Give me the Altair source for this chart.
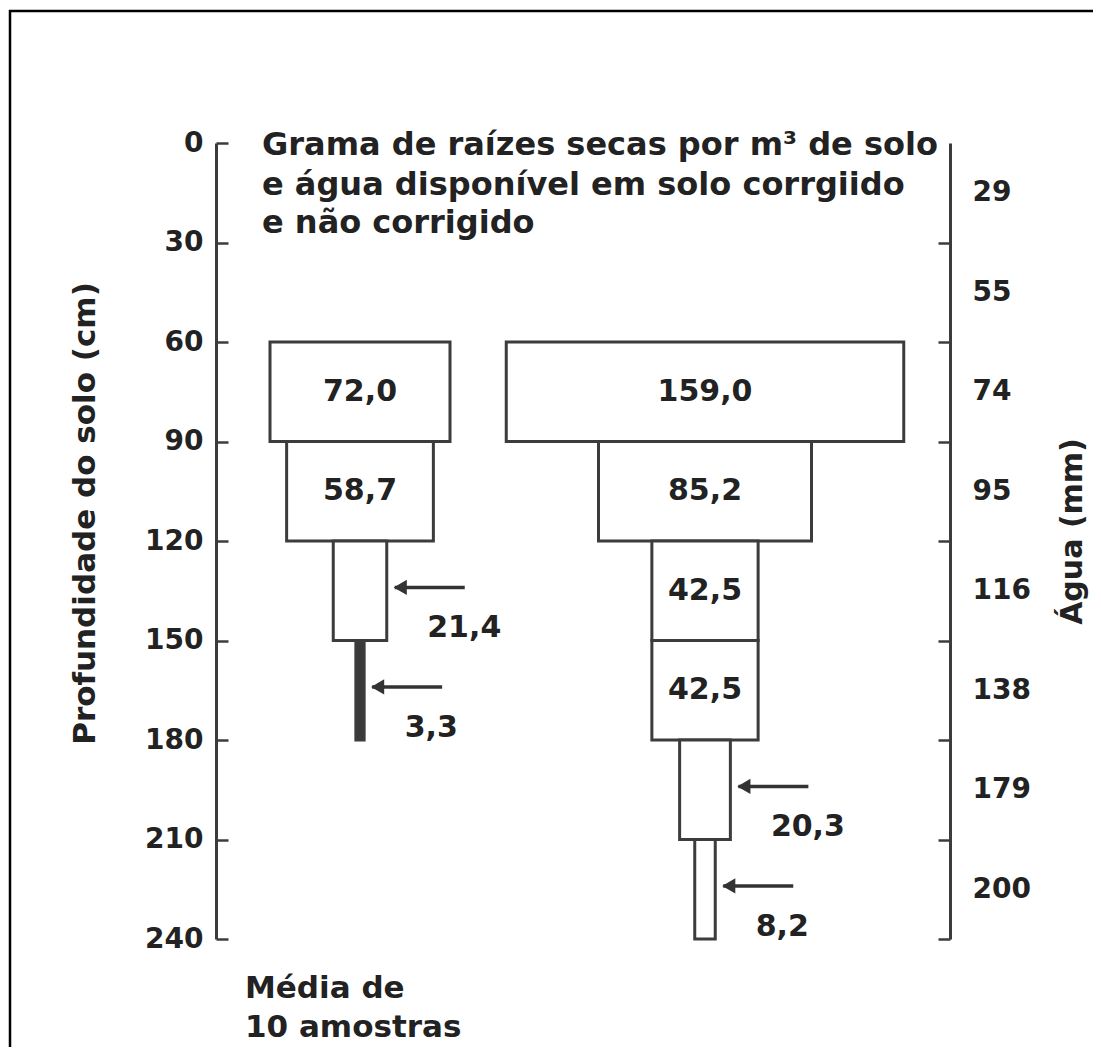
import altair as alt
import pandas as pd

# ---------------- data ----------------
depth_ticks = [0, 30, 60, 90, 120, 150, 180, 210, 240]
water_mm = [29, 55, 74, 95, 116, 138, 179, 200]

left_values = [72.0, 58.7, 21.4, 3.3]
left_tops = [60, 90, 120, 150]
left_bottoms = [90, 120, 150, 180]

right_values = [159.0, 85.2, 42.5, 42.5, 20.3, 8.2]
right_tops = [60, 90, 120, 150, 180, 210]
right_bottoms = [90, 120, 150, 180, 210, 240]

title_lines = ["Grama de raízes secas por m³ de solo",
               "e água disponível em solo corrgiido",
               "e não corrigido"]
note_lines = ["Média de", "10 amostras"]

# ---------------- layout / style ----------------
W, H = 734, 796
PAD = {"left": 208, "top": 135, "right": 143, "bottom": 108}
PX_PER_UNIT = 2.5
XMAX = W / PX_PER_UNIT
LEFT_C, RIGHT_C = 57.6, 195.6
FONT = "DejaVu Sans"
INK = "#222222"
LINE = "#3c3c3c"

rows = []
for c, vals, tops, bots in [(LEFT_C, left_values, left_tops, left_bottoms),
                            (RIGHT_C, right_values, right_tops, right_bottoms)]:
    for v, t, b in zip(vals, tops, bots):
        rows.append({
            "x1": c - v / 2, "x2": c + v / 2, "top": t, "bottom": b,
            "mid": (t + b) / 2, "cx": c, "v": v,
            "label": f"{v:.1f}".replace(".", ","),
            "inside": v >= 40,
            "fill": "#3a3a3a" if v < 5 else "white",
        })
df = pd.DataFrame(rows)
inside = df[df["inside"]].copy()
outside = df[~df["inside"]].copy()
outside["ax"] = outside["x2"] + 3.2
outside["ax2"] = outside["ax"] + 28
outside["ay"] = outside["top"] + 14
outside["hx"] = outside["ax"] + 2.2
outside["lx"] = outside["ax"] + 13
outside["ly"] = outside["top"] + 29

titles = pd.DataFrame({"text": title_lines, "x": [18.4] * 3, "y": [3.6, 15.7, 27.1]})
notes = pd.DataFrame({"text": note_lines, "x": [11.6] * 2, "y": [257.8, 269.6]})

xs = alt.Scale(domain=[0, XMAX], nice=False, zero=False)
ys = alt.Scale(domain=[0, 240], reverse=True, nice=False, zero=False)

lab = dict(labelFont=FONT, labelFontWeight="bold", labelFontSize=28, labelColor=INK,
           labelFlush=False, labelOverlap=False, grid=False)
ttl = dict(titleFont=FONT, titleFontWeight="bold", titleColor=INK,
           titleAngle=270, titleAlign="center", titleBaseline="middle")

left_axis = alt.Axis(orient="left", values=depth_ticks, ticks=False, tickSize=0,
                     labelPadding=13, domain=True, domainColor=LINE, domainWidth=3,
                     title="Profundidade do solo (cm)", titleFontSize=31,
                     titleX=-131, titleY=370, **lab, **ttl)
left_ticks = alt.Axis(orient="left", values=depth_ticks, offset=-12, tickSize=12,
                      tickWidth=2.5, tickColor=LINE, labels=False, domain=False,
                      title=None, grid=False)
right_ticks = alt.Axis(orient="right", values=depth_ticks[1:], offset=-12, tickSize=12,
                       tickWidth=2.5, tickColor=LINE, labels=False, domain=False,
                       title=None, grid=False)
right_axis = alt.Axis(orient="right", values=[15 + 30 * i for i in range(len(water_mm))],
                      labelExpr=f"{water_mm}[floor(datum.value / 30)]",
                      ticks=False, tickSize=0, labelPadding=22, domain=True,
                      domainColor=LINE, domainWidth=3, title="Água (mm)", titleFontSize=30,
                      titleX=122, titleY=388, **lab, **ttl)

boxes = alt.Chart(df).mark_rect(stroke=LINE, strokeWidth=3).encode(
    x=alt.X("x1:Q", scale=xs, axis=None), x2="x2:Q",
    y=alt.Y("top:Q", scale=ys, axis=left_axis), y2="bottom:Q",
    fill=alt.Fill("fill:N", scale=None),
)
inner = alt.Chart(inside).mark_text(font=FONT, fontWeight="bold", fontSize=30,
                                    color=INK, align="center", baseline="middle").encode(
    x=alt.X("cx:Q", scale=xs, axis=None),
    y=alt.Y("mid:Q", scale=ys, axis=left_ticks),
    text="label:N",
)
shafts = alt.Chart(outside).mark_rule(color="#333333", strokeWidth=3.5).encode(
    x=alt.X("ax:Q", scale=xs, axis=None), x2="ax2:Q",
    y=alt.Y("ay:Q", scale=ys, axis=right_ticks),
)
heads = alt.Chart(outside).mark_point(shape="triangle-left", filled=True, size=230,
                                      color="#333333", opacity=1).encode(
    x=alt.X("hx:Q", scale=xs, axis=None),
    y=alt.Y("ay:Q", scale=ys, axis=None),
)
small = alt.Chart(outside).mark_text(font=FONT, fontWeight="bold", fontSize=30,
                                     color=INK, align="left", baseline="alphabetic").encode(
    x=alt.X("lx:Q", scale=xs, axis=None),
    y=alt.Y("ly:Q", scale=ys, axis=None),
    text="label:N",
)
title_txt = alt.Chart(titles).mark_text(font=FONT, fontWeight="bold", fontSize=32,
                                        color=INK, align="left", baseline="alphabetic").encode(
    x=alt.X("x:Q", scale=xs, axis=None),
    y=alt.Y("y:Q", scale=ys, axis=right_axis),
    text="text:N",
)
note_txt = alt.Chart(notes).mark_text(font=FONT, fontWeight="bold", fontSize=31,
                                      color=INK, align="left", baseline="alphabetic").encode(
    x=alt.X("x:Q", scale=xs, axis=None),
    y=alt.Y("y:Q", scale=ys, axis=None),
    text="text:N",
)

one = pd.DataFrame({"k": [0]})
frame_top = alt.Chart(one).mark_rule(color="black", strokeWidth=2.5).encode(
    x=alt.value(-207), x2=alt.value(W + PAD["right"]), y=alt.value(-132))
frame_left = alt.Chart(one).mark_rule(color="black", strokeWidth=2.5).encode(
    x=alt.value(-206), y=alt.value(-133), y2=alt.value(H + PAD["bottom"]))

chart = alt.layer(
    boxes, inner, shafts, heads, small, title_txt, note_txt, frame_top, frame_left
).resolve_axis(y="independent").properties(
    width=W, height=H, padding=PAD,
    autosize=alt.AutoSizeParams(type="none"),
    background="white",
).configure_view(stroke=None)

chart.save("out.html", embed_options={"renderer": "svg", "actions": False})
